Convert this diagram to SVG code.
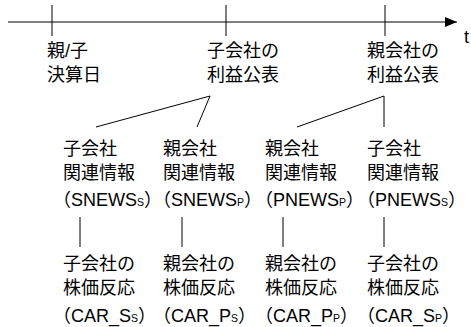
<svg xmlns="http://www.w3.org/2000/svg" width="471" height="327" viewBox="0 0 471 327">
<style>
text{font-family:"Liberation Sans","Noto Sans CJK JP",sans-serif;font-size:18px;fill:#000}
.p{font-feature-settings:"halt" 1}
.sub{font-size:10.5px}
line{stroke:#000;stroke-width:1}
</style>
<defs>
<marker id="ah" markerWidth="12" markerHeight="10" refX="12" refY="5" orient="auto" markerUnits="userSpaceOnUse">
<path d="M0,0 L12,5 L0,10 Z" fill="#000"/>
</marker>
</defs>
<rect width="471" height="327" fill="#fff"/>
<g id="connectors">
<line x1="8" y1="22" x2="457" y2="22" marker-end="url(#ah)"/>
<line x1="52" y1="5" x2="52" y2="36"/>
<line x1="226" y1="5" x2="226" y2="36"/>
<line x1="385" y1="5" x2="385" y2="36"/>
<line x1="210" y1="96" x2="96" y2="127"/>
<line x1="210" y1="96" x2="197" y2="127"/>
<line x1="384" y1="96" x2="297" y2="127"/>
<line x1="384" y1="96" x2="384" y2="127"/>
<line x1="80" y1="217" x2="80" y2="247"/>
<line x1="182" y1="217" x2="182" y2="247"/>
<line x1="283" y1="217" x2="283" y2="247"/>
<line x1="384" y1="217" x2="384" y2="247"/>
</g>
<g id="axis-label"><text x="464" y="43">t</text></g>
<g id="kessan">
<text x="47" y="57">親/子</text>
<text x="47" y="81">決算日</text>
</g>
<g id="ko-kohyo">
<text x="207" y="57">子会社の</text>
<text x="207" y="81">利益公表</text>
</g>
<g id="oya-kohyo">
<text x="367" y="57">親会社の</text>
<text x="367" y="81">利益公表</text>
</g>
<g id="snews-s">
<text x="63" y="155">子会社</text>
<text x="63" y="179">関連情報</text>
<text class="p" x="62" y="206">（SNEWS<tspan class="sub">S</tspan>）</text>
</g>
<g id="snews-p">
<text x="163" y="155">親会社</text>
<text x="163" y="179">関連情報</text>
<text class="p" x="162" y="206">（SNEWS<tspan class="sub">P</tspan>）</text>
</g>
<g id="pnews-p">
<text x="265" y="155">親会社</text>
<text x="265" y="179">関連情報</text>
<text class="p" x="264" y="206">（PNEWS<tspan class="sub">P</tspan>）</text>
</g>
<g id="pnews-s">
<text x="367" y="155">子会社</text>
<text x="367" y="179">関連情報</text>
<text class="p" x="366" y="206">（PNEWS<tspan class="sub">S</tspan>）</text>
</g>
<g id="car-ss">
<text x="63" y="270">子会社の</text>
<text x="63" y="294">株価反応</text>
<text class="p" x="62" y="322">（CAR_S<tspan class="sub">S</tspan>）</text>
</g>
<g id="car-ps">
<text x="163" y="270">親会社の</text>
<text x="163" y="294">株価反応</text>
<text class="p" x="162" y="322">（CAR_P<tspan class="sub">S</tspan>）</text>
</g>
<g id="car-pp">
<text x="265" y="270">親会社の</text>
<text x="265" y="294">株価反応</text>
<text class="p" x="264" y="322">（CAR_P<tspan class="sub">P</tspan>）</text>
</g>
<g id="car-sp">
<text x="367" y="270">子会社の</text>
<text x="367" y="294">株価反応</text>
<text class="p" x="366" y="322">（CAR_S<tspan class="sub">P</tspan>）</text>
</g>
</svg>
